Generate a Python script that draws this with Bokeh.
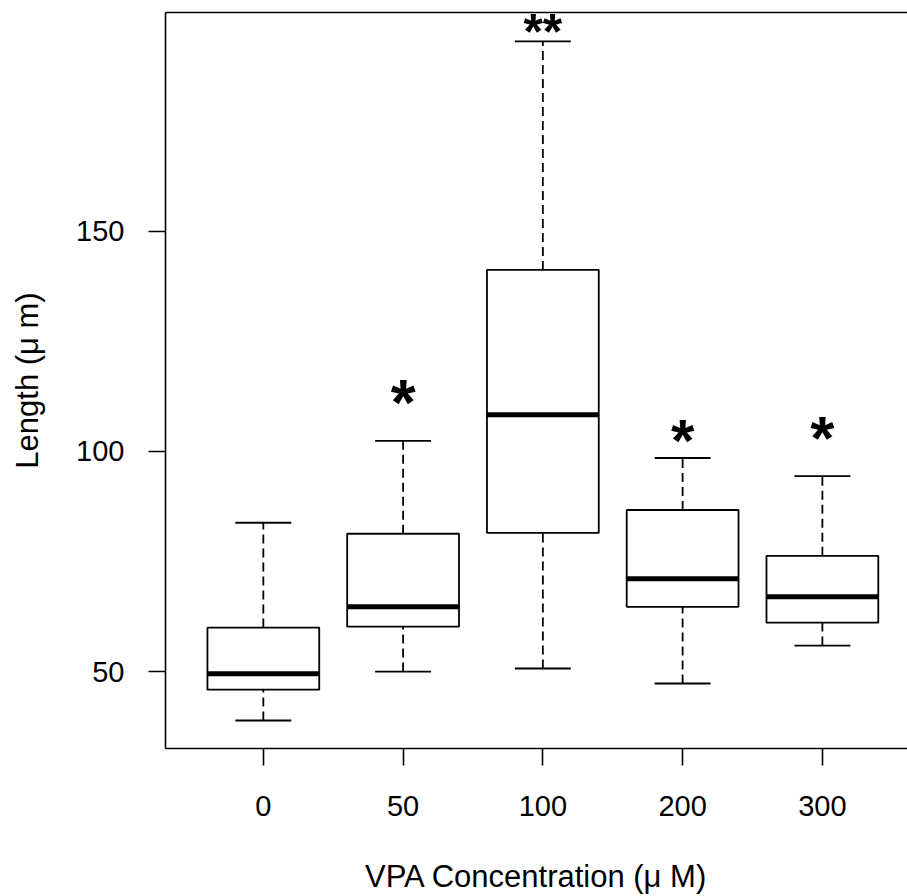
from bokeh.plotting import figure
from bokeh.models import Range1d, LinearAxis, FixedTicker
from bokeh.core.properties import value
from bokeh.embed import file_html
from bokeh.resources import INLINE

# ---- data ----
categories = ["0", "50", "100", "200", "300"]
positions = [1, 2, 3, 4, 5]
lower_whisker = [38.9, 50.0, 50.7, 47.3, 55.9]
q1 = [45.9, 60.2, 81.5, 64.7, 61.1]
median = [49.5, 64.7, 108.3, 71.1, 67.0]
q3 = [60.0, 81.3, 141.2, 86.7, 76.3]
upper_whisker = [83.8, 102.4, 193.1, 98.5, 94.4]

sig_positions = [2, 3, 4, 5]
sig_labels = ["*", "**", "*", "*"]
sig_y = [111.0, 195.3, 102.4, 103.1]
sig_sizes = ["64px", "50px", "60px", "62px"]

y_ticks = [50, 100, 150]

FONT = "Liberation Sans"
BOX_W = 0.8
STAPLE_W = 0.4

p = figure(width=907, height=896, output_backend="svg", toolbar_location=None,
           x_range=Range1d(0.3, 5.609), y_range=Range1d(32.54, 199.66),
           min_border_left=165, min_border_right=0, min_border_top=12,
           min_border_bottom=147)
p.outline_line_color = None
p.grid.visible = False
p.background_fill_color = "white"
p.border_fill_color = "white"

# boxes
p.quad(left=[x - BOX_W / 2 for x in positions], right=[x + BOX_W / 2 for x in positions],
       bottom=q1, top=q3, fill_color="white", line_color="black", line_width=1.8)
# whiskers
p.segment(x0=positions, x1=positions, y0=q3, y1=upper_whisker,
          line_color="black", line_width=1.8, line_dash="9 5")
p.segment(x0=positions, x1=positions, y0=lower_whisker, y1=q1,
          line_color="black", line_width=1.8, line_dash="9 5")
# staples
p.segment(x0=[x - STAPLE_W / 2 for x in positions], x1=[x + STAPLE_W / 2 for x in positions],
          y0=upper_whisker, y1=upper_whisker, line_color="black", line_width=1.8)
p.segment(x0=[x - STAPLE_W / 2 for x in positions], x1=[x + STAPLE_W / 2 for x in positions],
          y0=lower_whisker, y1=lower_whisker, line_color="black", line_width=1.8)
# medians
p.segment(x0=[x - BOX_W / 2 for x in positions], x1=[x + BOX_W / 2 for x in positions],
          y0=median, y1=median, line_color="black", line_width=5, line_cap="butt")

# significance marks
p.text(x=sig_positions, y=sig_y, text=sig_labels, text_font=value(FONT),
       text_font_style="bold", text_font_size=sig_sizes, text_align="center",
       text_baseline="alphabetic", text_color="black")

# axes
xa = p.xaxis[0]
xa.ticker = FixedTicker(ticks=positions)
xa.major_label_overrides = {pos: lab for pos, lab in zip(positions, categories)}
xa.axis_label = "VPA Concentration (\u03bc M)"
ya = p.yaxis[0]
ya.ticker = FixedTicker(ticks=y_ticks)
ya.axis_label = "Length (\u03bc m)"

for ax in (xa, ya):
    ax.axis_line_color = "black"
    ax.axis_line_width = 1.6
    ax.major_tick_line_color = "black"
    ax.major_tick_line_width = 1.6
    ax.major_tick_out = 17
    ax.major_tick_in = 0
    ax.minor_tick_out = 0
    ax.minor_tick_in = 0
    ax.major_label_text_font = FONT
    ax.major_label_text_font_size = "29px"
    ax.major_label_text_color = "black"
    ax.axis_label_text_font = FONT
    ax.axis_label_text_font_size = "31px"
    ax.axis_label_text_font_style = "normal"
    ax.axis_label_text_color = "black"

xa.major_label_standoff = 30
xa.axis_label_standoff = 40
ya.major_label_standoff = 24
ya.axis_label_standoff = 28

top = LinearAxis(ticker=FixedTicker(ticks=[]), major_label_text_font_size="0px",
                 major_tick_out=0, major_tick_in=0, minor_tick_out=0, minor_tick_in=0,
                 major_label_standoff=0, axis_line_color="black", axis_line_width=1.6)
p.add_layout(top, "above")

open("out.html", "w").write(file_html(p, INLINE))
